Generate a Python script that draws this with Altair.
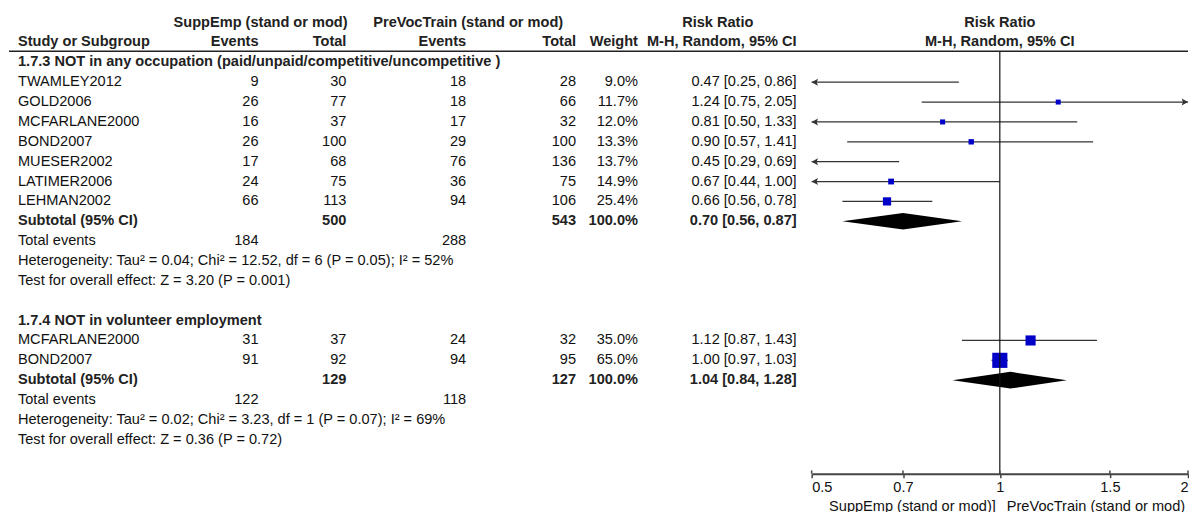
import altair as alt
import pandas as pd

# ---------------- data ----------------
group_titles = ["1.7.3 NOT in any occupation (paid/unpaid/competitive/uncompetitive )",
                "1.7.4 NOT in volunteer employment"]

g1_study = ["TWAMLEY2012", "GOLD2006", "MCFARLANE2000", "BOND2007", "MUESER2002", "LATIMER2006", "LEHMAN2002"]
g1_se_events = [9, 26, 16, 26, 17, 24, 66]
g1_se_total = [30, 77, 37, 100, 68, 75, 113]
g1_pv_events = [18, 18, 17, 29, 76, 36, 94]
g1_pv_total = [28, 66, 32, 100, 136, 75, 106]
g1_weight = [9.0, 11.7, 12.0, 13.3, 13.7, 14.9, 25.4]
g1_rr = [0.47, 1.24, 0.81, 0.90, 0.45, 0.67, 0.66]
g1_lo = [0.25, 0.75, 0.50, 0.57, 0.29, 0.44, 0.56]
g1_hi = [0.86, 2.05, 1.33, 1.41, 0.69, 1.00, 0.78]

g2_study = ["MCFARLANE2000", "BOND2007"]
g2_se_events = [31, 91]
g2_se_total = [37, 92]
g2_pv_events = [24, 94]
g2_pv_total = [32, 95]
g2_weight = [35.0, 65.0]
g2_rr = [1.12, 1.00]
g2_lo = [0.87, 0.97]
g2_hi = [1.43, 1.03]

sub_se_total = [500, 129]
sub_pv_total = [543, 127]
sub_rr = [0.70, 1.04]
sub_lo = [0.56, 0.84]
sub_hi = [0.87, 1.28]
tot_se_events = [184, 122]
tot_pv_events = [288, 118]
het_text = ["Heterogeneity: Tau\u00b2 = 0.04; Chi\u00b2 = 12.52, df = 6 (P = 0.05); I\u00b2 = 52%",
            "Heterogeneity: Tau\u00b2 = 0.02; Chi\u00b2 = 3.23, df = 1 (P = 0.07); I\u00b2 = 69%"]
test_text = ["Test for overall effect: Z = 3.20 (P = 0.001)",
             "Test for overall effect: Z = 0.36 (P = 0.72)"]

header_top = ["SuppEmp (stand or mod)", "PreVocTrain (stand or mod)", "Risk Ratio", "Risk Ratio"]
header_bot = ["Study or Subgroup", "Events", "Total", "Events", "Total", "Weight",
              "M-H, Random, 95% CI", "M-H, Random, 95% CI"]
tick_values = [0.5, 0.7, 1, 1.5, 2]
favours = ["SuppEmp (stand or mod)]", "PreVocTrain (stand or mod)"]

# ---------------- layout / style ----------------
FONT = "Liberation Sans"
FS = 14.6
TXT = "#111111"
BOLD = "#222222"
W, H = 1181, 466
UNIT = 19.9
TOP = 54.0
R_TOP = -TOP / UNIT
R_BOT = (H - TOP) / UNIT
R_LINE = -0.553
R_FAV = 22.36
DIAMOND_HALF = 0.42

COLX = {"study": 9, "se_ev": 250, "se_tot": 338, "pv_ev": 458, "pv_tot": 568,
        "weight": 630, "ci": 789}

yscale = alt.Scale(domain=[R_TOP, R_BOT], reverse=True, nice=False, zero=False)
xscale = alt.Scale(type="log", domain=[0.5, 2], range=[804, 1181], clamp=True, nice=False)
xaxis = alt.Axis(values=tick_values, format="~g", labelFlush=True, grid=False, title=None,
                 domainColor="#444444", domainWidth=2, tickColor="#444444", tickWidth=1.5,
                 tickSize=4, labelFont=FONT, labelFontSize=FS, labelColor="#111111",
                 labelPadding=2)

# ---------------- build tables ----------------
groups = [
    (g1_study, g1_se_events, g1_se_total, g1_pv_events, g1_pv_total, g1_weight, g1_rr, g1_lo, g1_hi),
    (g2_study, g2_se_events, g2_se_total, g2_pv_events, g2_pv_total, g2_weight, g2_rr, g2_lo, g2_hi),
]

study_rows, title_rows, sub_rows, tot_rows, het_rows, test_rows = [], [], [], [], [], []
r = 0
for gi, g in enumerate(groups):
    title_rows.append({"row": r, "t": group_titles[gi]})
    n = len(g[0])
    for i in range(n):
        study_rows.append({
            "row": r + 1 + i, "study": g[0][i],
            "se_ev": str(g[1][i]), "se_tot": str(g[2][i]),
            "pv_ev": str(g[3][i]), "pv_tot": str(g[4][i]),
            "weight": f"{g[5][i]:.1f}%",
            "ci": f"{g[6][i]:.2f} [{g[7][i]:.2f}, {g[8][i]:.2f}]",
            "rr": g[6][i], "lo": g[7][i], "hi": g[8][i], "w": g[5][i],
        })
    rs = r + n + 1
    sub_rows.append({"row": rs, "study": "Subtotal (95% CI)",
                     "se_tot": str(sub_se_total[gi]), "pv_tot": str(sub_pv_total[gi]),
                     "weight": "100.0%",
                     "ci": f"{sub_rr[gi]:.2f} [{sub_lo[gi]:.2f}, {sub_hi[gi]:.2f}]",
                     "rr": sub_rr[gi], "lo": sub_lo[gi], "hi": sub_hi[gi]})
    tot_rows.append({"row": rs + 1, "study": "Total events",
                     "se_ev": str(tot_se_events[gi]), "pv_ev": str(tot_pv_events[gi])})
    het_rows.append({"row": rs + 2, "t": het_text[gi]})
    test_rows.append({"row": rs + 3, "t": test_text[gi]})
    r = rs + 5

studies = pd.DataFrame(study_rows)
subs = pd.DataFrame(sub_rows)
tots = pd.DataFrame(tot_rows)
titles = pd.DataFrame(title_rows)
hets = pd.DataFrame(het_rows)
tests = pd.DataFrame(test_rows)

diamond_pts = []
for _, s in subs.iterrows():
    diamond_pts += [
        {"g": s["row"], "x": s["lo"], "y1": s["row"], "y2": s["row"]},
        {"g": s["row"], "x": s["rr"], "y1": s["row"] - DIAMOND_HALF, "y2": s["row"] + DIAMOND_HALF},
        {"g": s["row"], "x": s["hi"], "y1": s["row"], "y2": s["row"]},
    ]
diamonds = pd.DataFrame(diamond_pts)

Y = alt.Y("row:Q", scale=yscale, axis=None)


def text_layer(df, field, x, align, bold=False):
    return alt.Chart(df).mark_text(
        align=align, baseline="middle", font=FONT, fontSize=FS,
        fontWeight="bold" if bold else "normal", color=BOLD if bold else TXT
    ).encode(x=alt.value(x), y=Y, text=alt.Text(f"{field}:N"))


layers = []

# forest plot: CI lines
ci = alt.Chart(studies).mark_rule(color="#333333", strokeWidth=1.3).encode(
    x=alt.X("lo:Q", scale=xscale, axis=xaxis), x2="hi:Q", y=Y)
layers.append(ci)

# arrows for clipped CIs
left_arrow = alt.Chart(studies).transform_filter("datum.lo <= 0.5").mark_point(
    shape="M0,0L1,-0.55L0.8,0L1,0.55Z", filled=True, size=160, color="#333333", opacity=1
).encode(x=alt.X("lo:Q", scale=xscale, axis=xaxis), y=Y)
right_arrow = alt.Chart(studies).transform_filter("datum.hi >= 2").mark_point(
    shape="M0,0L-1,-0.55L-0.8,0L-1,0.55Z", filled=True, size=160, color="#333333", opacity=1
).encode(x=alt.X("hi:Q", scale=xscale, axis=xaxis), y=Y)
layers += [left_arrow, right_arrow]

# squares (area grows with weight)
squares = alt.Chart(studies).transform_filter("datum.rr >= 0.5 && datum.rr <= 2").mark_point(
    shape="square", filled=True, color="#0000c8", opacity=1
).encode(
    x=alt.X("rr:Q", scale=xscale, axis=xaxis), y=Y,
    size=alt.Size("w:Q", scale=alt.Scale(type="pow", exponent=1.3, domain=[0, 65], range=[0, 230]),
                  legend=None))
layers.append(squares)

# diamonds
diam = alt.Chart(diamonds).mark_area(color="#000000", opacity=1).encode(
    x=alt.X("x:Q", scale=xscale, axis=xaxis),
    y=alt.Y("y1:Q", scale=yscale, axis=None), y2="y2:Q", detail="g:N")
layers.append(diam)

# line of no effect
vline = alt.Chart(pd.DataFrame({"v": [1]})).mark_rule(color="#111111", strokeWidth=1.2).encode(
    x=alt.X("v:Q", scale=xscale, axis=xaxis),
    y=alt.Y(datum=R_LINE, scale=yscale, axis=None), y2=alt.Y2(datum=R_BOT))
layers.append(vline)

# upward part of axis ticks
ticks_up = alt.Chart(pd.DataFrame({"v": tick_values})).mark_rule(color="#444444", strokeWidth=1.5).encode(
    x=alt.X("v:Q", scale=xscale, axis=xaxis),
    y=alt.Y(datum=R_BOT - 0.16, scale=yscale, axis=None), y2=alt.Y2(datum=R_BOT))
layers.append(ticks_up)

# header rule
hrule = alt.Chart(pd.DataFrame({"a": [0]})).mark_rule(color="#222222", strokeWidth=1.5).encode(
    x=alt.value(0), x2=alt.value(W), y=alt.Y(datum=R_LINE, scale=yscale, axis=None))
layers.append(hrule)

# table text - study rows
for col, al in [("study", "left"), ("se_ev", "right"), ("se_tot", "right"), ("pv_ev", "right"),
                ("pv_tot", "right"), ("weight", "right"), ("ci", "right")]:
    layers.append(text_layer(studies, col, COLX[col], al))
# subtotal rows (bold)
for col, al in [("study", "left"), ("se_tot", "right"), ("pv_tot", "right"),
                ("weight", "right"), ("ci", "right")]:
    layers.append(text_layer(subs, col, COLX[col], al, bold=True))
# total events
for col, al in [("study", "left"), ("se_ev", "right"), ("pv_ev", "right")]:
    layers.append(text_layer(tots, col, COLX[col], al))
layers.append(text_layer(titles, "t", COLX["study"], "left", bold=True))
layers.append(text_layer(hets, "t", COLX["study"], "left"))
layers.append(text_layer(tests, "t", COLX["study"], "left"))

# headers
top_pos = [(252, "center"), (460, "center"), (710, "center")]
for (x, al), t in zip(top_pos, header_top[:3]):
    layers.append(text_layer(pd.DataFrame({"row": [-2], "t": [t]}), "t", x, al, bold=True))
bot_pos = [(COLX["study"], "left"), (COLX["se_ev"], "right"), (COLX["se_tot"], "right"),
           (COLX["pv_ev"], "right"), (COLX["pv_tot"], "right"), (COLX["weight"], "right"),
           (COLX["ci"], "right")]
for (x, al), t in zip(bot_pos, header_bot[:7]):
    layers.append(text_layer(pd.DataFrame({"row": [-1], "t": [t]}), "t", x, al, bold=True))

# plot headers centred on RR = 1
plot_hdr = pd.DataFrame({"v": [1, 1], "row": [-2, -1], "t": [header_top[3], header_bot[7]]})
layers.append(alt.Chart(plot_hdr).mark_text(
    align="center", baseline="middle", font=FONT, fontSize=FS, fontWeight="bold", color=BOLD
).encode(x=alt.X("v:Q", scale=xscale, axis=xaxis), y=Y, text="t:N"))

# favours labels
fav_l = pd.DataFrame({"v": [1], "row": [R_FAV], "t": [favours[0]]})
fav_r = pd.DataFrame({"v": [1], "row": [R_FAV], "t": [favours[1]]})
layers.append(alt.Chart(fav_l).mark_text(
    align="right", baseline="middle", font=FONT, fontSize=FS, color=TXT, dx=-4
).encode(x=alt.X("v:Q", scale=xscale, axis=xaxis), y=Y, text="t:N"))
layers.append(alt.Chart(fav_r).mark_text(
    align="left", baseline="middle", font=FONT, fontSize=FS, color=TXT, dx=7
).encode(x=alt.X("v:Q", scale=xscale, axis=xaxis), y=Y, text="t:N"))

chart = alt.layer(*layers).properties(width=W, height=H, padding=0).configure_view(stroke=None)

chart.save("out.html", embed_options={"renderer": "svg", "actions": False})
